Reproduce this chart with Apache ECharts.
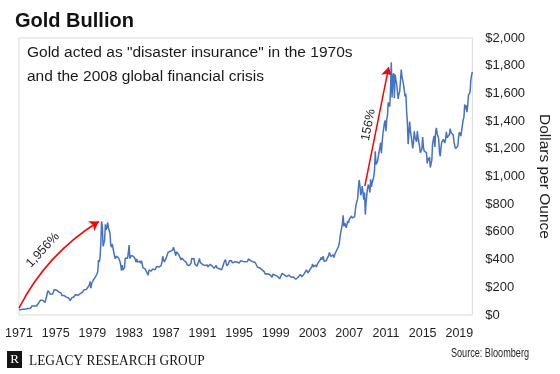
<!DOCTYPE html>
<html>
<head>
<meta charset="utf-8">
<script src="https://cdn.jsdelivr.net/npm/echarts@6/dist/echarts.min.js"></script>
<style>
html,body{margin:0;padding:0;background:#ffffff;}
#chart{width:560px;height:374px;}
</style>
</head>
<body>
<div id="chart"></div>
<script>
// ---------- DATA ----------
const firstYear = 1971;
const xTickYears = [1971, 1975, 1979, 1983, 1987, 1991, 1995, 1999, 2003, 2007, 2011, 2015, 2019];
const yTickValues = [0, 200, 400, 600, 800, 1000, 1200, 1400, 1600, 1800, 2000];

// Month-end gold price, US$ per ounce (Jan 1971 .. Jun 2020)
const gold1970s = [
  38.0, 38.7, 38.9, 39.0, 40.5, 40.1, 41.0, 42.7, 42.0, 42.5, 42.9, 43.6,
  46.8, 48.3, 48.3, 49.0, 56.0, 65.0, 67.0, 67.0, 65.0, 64.8, 62.9, 64.9,
  65.8, 81.0, 84.0, 91.0, 106.0, 120.0, 118.0, 106.0, 101.0, 100.0, 90.5, 112.3,
  130.0, 160.0, 175.0, 172.0, 163.0, 149.0, 154.0, 154.0, 151.0, 158.0, 182.0, 195.0,
  175.0, 180.0, 177.0, 167.0, 167.0, 166.0, 166.0, 159.0, 141.0, 142.0, 138.0, 140.3,
  128.0, 132.0, 129.0, 128.0, 126.0, 123.0, 112.0, 104.0, 116.0, 123.0, 130.0, 134.5,
  132.0, 142.0, 149.0, 148.0, 143.0, 141.0, 144.0, 145.0, 154.0, 162.0, 160.0, 165.0,
  175.0, 182.0, 181.0, 170.0, 184.0, 183.0, 200.0, 208.0, 217.0, 242.0, 194.0, 226.0,
  233.0, 251.0, 240.0, 245.0, 275.0, 277.0, 296.0, 315.0, 397.0, 382.0, 415.0, 512.0
];
const gold1980s = [
  676, 637, 496, 518, 540, 655, 615, 630, 668, 629, 619, 590,
  506, 489, 513, 482, 480, 426, 406, 425, 428, 427, 414, 400,
  387, 363, 320, 361, 326, 317, 342, 411, 397, 420, 409, 448,
  505, 408, 415, 430, 437, 416, 422, 414, 405, 382, 405, 382,
  372, 394, 389, 373, 392, 374, 342, 348, 342, 333, 329, 309,
  306, 288, 325, 321, 317, 318, 327, 333, 326, 325, 326, 327,
  350, 338, 345, 346, 343, 345, 356, 383, 424, 401, 383, 391,
  405, 405, 419, 452, 452, 448, 460, 452, 460, 469, 490, 484,
  454, 428, 456, 451, 452, 436, 437, 428, 397, 412, 422, 410,
  394, 387, 382, 378, 361, 373, 368, 358, 367, 375, 408, 401
];
const gold1990s = [
  415, 407, 368, 368, 363, 352, 372, 387, 408, 380, 384, 386,
  366, 362, 355, 357, 361, 366, 362, 347, 354, 357, 366, 353,
  354, 353, 341, 337, 337, 343, 357, 340, 349, 339, 334, 333,
  330, 327, 338, 355, 377, 378, 401, 372, 355, 369, 370, 391,
  378, 381, 391, 376, 387, 385, 384, 385, 394, 383, 383, 383,
  375, 376, 392, 389, 385, 387, 383, 382, 384, 383, 387, 387,
  405, 400, 396, 392, 390, 382, 385, 386, 379, 379, 371, 369,
  345, 358, 349, 340, 345, 334, 326, 325, 332, 311, 296, 290,
  305, 298, 301, 310, 293, 296, 288, 273, 294, 292, 294, 288,
  287, 287, 279, 286, 268, 261, 255, 254, 300, 299, 292, 290
];
const gold2000s = [
  283, 293, 277, 274, 275, 288, 276, 278, 273, 264, 270, 274,
  266, 267, 258, 263, 268, 271, 265, 274, 293, 279, 275, 277,
  282, 297, 301, 309, 326, 318, 304, 312, 323, 317, 317, 347,
  368, 347, 334, 337, 361, 346, 354, 375, 388, 384, 398, 416,
  399, 395, 423, 388, 394, 394, 391, 407, 416, 429, 452, 438,
  422, 435, 428, 435, 415, 437, 429, 433, 473, 470, 495, 520,
  568, 556, 582, 660, 720, 640, 665, 650, 630, 640, 680, 665,
  690, 700, 690, 715, 700, 690, 705, 710, 760, 800, 790, 840,
  923, 975, 933, 865, 886, 930, 918, 833, 884, 725, 815, 870,
  919, 942, 916, 884, 980, 926, 955, 955, 996, 1040, 1182, 1087
];
const gold2010s = [
  1078, 1109, 1113, 1180, 1207, 1244, 1169, 1246, 1307, 1346, 1386, 1405,
  1327, 1411, 1439, 1535, 1536, 1505, 1628, 1825, 1570, 1722, 1746, 1565,
  1737, 1697, 1668, 1664, 1561, 1598, 1614, 1691, 1772, 1720, 1714, 1664,
  1664, 1578, 1598, 1476, 1392, 1234, 1314, 1396, 1327, 1323, 1253, 1202,
  1244, 1326, 1284, 1296, 1250, 1327, 1282, 1286, 1216, 1171, 1183, 1199,
  1284, 1213, 1183, 1183, 1191, 1172, 1095, 1132, 1115, 1142, 1065, 1060,
  1118, 1238, 1232, 1293, 1214, 1322, 1351, 1309, 1315, 1272, 1174, 1146,
  1211, 1249, 1245, 1268, 1268, 1242, 1269, 1322, 1280, 1271, 1275, 1303,
  1345, 1318, 1325, 1315, 1299, 1250, 1224, 1201, 1192, 1215, 1222, 1282,
  1321, 1313, 1292, 1283, 1305, 1409, 1427, 1520, 1485, 1513, 1464, 1517
];
const gold2020 = [1589, 1585, 1608, 1694, 1730, 1755];

// Annotation arrows: [year, price] start and end, with their labels
const arrowSeventiesFrom = [1971.0, 50];
const arrowSeventiesTo = [1979.7, 675];
const arrowSeventiesLabel = '1,956%';
const arrowCrisisFrom = [2008.7, 930];
const arrowCrisisTo = [2011.3, 1790];
const arrowCrisisLabel = '156%';

// ---------- BUILD ----------
const goldPrices = [].concat(gold1970s, gold1980s, gold1990s, gold2000s, gold2010s, gold2020);
// x = years elapsed since Jan 1971 (one point per month)
const seriesData = goldPrices.map((v, i) => [i / 12, v]);
const lastX = (goldPrices.length - 1) / 12;
const toX = y => y - firstYear;

const chart = echarts.init(document.getElementById('chart'), null, {renderer: 'canvas'});
const sansFont = '"Liberation Sans", Arial, sans-serif';
const serifFont = '"Liberation Serif", "Times New Roman", serif';

const option = {
  animation: false,
  backgroundColor: '#ffffff',
  grid: {
    left: 19, right: 86, top: 38, bottom: 59,
    show: true, borderColor: '#d9d9d9', borderWidth: 1, backgroundColor: 'transparent'
  },
  xAxis: {
    type: 'value',
    min: 0,
    max: lastX,
    interval: 4,
    axisLine: {show: false},
    axisTick: {show: false},
    splitLine: {show: false},
    axisLabel: {
      margin: 12,
      fontSize: 12.5,
      fontFamily: sansFont,
      color: '#1f1f1f',
      showMaxLabel: false,
      formatter: function (v) {
        const yr = Math.round(v) + firstYear;
        return (Math.abs(v - Math.round(v)) < 1e-6 && xTickYears.indexOf(yr) >= 0) ? String(yr) : '';
      }
    }
  },
  yAxis: {
    type: 'value',
    position: 'right',
    min: yTickValues[0],
    max: yTickValues[yTickValues.length - 1],
    interval: yTickValues[1] - yTickValues[0],
    axisLine: {show: false},
    axisTick: {show: false},
    splitLine: {show: false},
    axisLabel: {
      margin: 13,
      fontSize: 13,
      fontFamily: sansFont,
      color: '#1f1f1f',
      formatter: function (v) { return '$' + v.toLocaleString('en-US'); }
    },
    name: 'Dollars per Ounce',
    nameLocation: 'middle',
    nameRotate: -90,
    nameGap: 60,
    nameTextStyle: {fontSize: 15.5, fontFamily: sansFont, color: '#1f1f1f'}
  },
  series: [
    {
      type: 'line',
      data: seriesData,
      showSymbol: false,
      symbol: 'none',
      lineStyle: {color: '#4472C4', width: 1.5},
      silent: true
    },
    {
      type: 'lines',
      coordinateSystem: 'cartesian2d',
      silent: true,
      symbol: ['none', 'arrow'],
      symbolSize: 9,
      lineStyle: {color: '#ff0000', width: 1.5, opacity: 1},
      itemStyle: {color: '#ff0000'},
      label: {show: true, position: 'middle', fontSize: 12.5, fontFamily: sansFont, color: '#1f1f1f'},
      data: [
        {
          coords: [[toX(arrowSeventiesFrom[0]), arrowSeventiesFrom[1]], [toX(arrowSeventiesTo[0]), arrowSeventiesTo[1]]],
          lineStyle: {curveness: 0.14},
          label: {formatter: arrowSeventiesLabel, distance: 7}
        },
        {
          coords: [[toX(arrowCrisisFrom[0]), arrowCrisisFrom[1]], [toX(arrowCrisisTo[0]), arrowCrisisTo[1]]],
          lineStyle: {curveness: 0},
          label: {formatter: arrowCrisisLabel, distance: 2}
        }
      ]
    }
  ],
  graphic: [
    {type: 'text', left: 15, top: 11,
     style: {text: 'Gold Bullion', fontSize: 20, fontWeight: 'bold', fontFamily: sansFont, fill: '#111111'}},
    {type: 'text', x: 27, y: 64.5,
     style: {text: 'Gold acted as "disaster insurance" in the 1970s\nand the 2008 global financial crisis',
             fontSize: 15.5, lineHeight: 24, fontFamily: sansFont, fill: '#1a1a1a',
             align: 'left', verticalAlign: 'middle'}},
    {type: 'rect', shape: {x: 7, y: 351, width: 15, height: 17}, style: {fill: '#141414'}},
    {type: 'text', x: 14.5, y: 360,
     style: {text: 'R', fontSize: 13, fontFamily: serifFont,
             fill: '#ffffff', align: 'center', verticalAlign: 'middle'}},
    {type: 'text', x: 29, y: 361, scaleX: 0.89,
     style: {text: 'LEGACY RESEARCH GROUP', fontSize: 15, fontFamily: serifFont, fill: '#141414',
             align: 'left', verticalAlign: 'middle'}},
    {type: 'text', x: 529, y: 354, scaleX: 0.73,
     style: {text: 'Source: Bloomberg', fontSize: 12.5, fontFamily: sansFont,
             fill: '#262626', align: 'right', verticalAlign: 'middle'}}
  ]
};
chart.setOption(option);
</script>
</body>
</html>
